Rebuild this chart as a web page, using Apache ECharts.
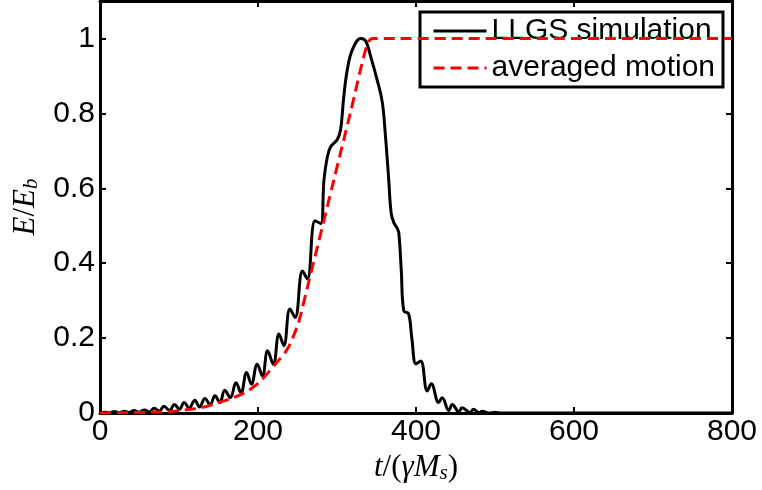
<!DOCTYPE html>
<html>
<head>
<meta charset="utf-8">
<script src="https://cdn.jsdelivr.net/npm/echarts@6.0.0/dist/echarts.min.js"></script>
<style>
  html, body { margin: 0; padding: 0; background: #fff; }
  #chart { width: 762px; height: 490px; }
</style>
</head>
<body>
<div id="chart"></div>
<script>
// LLGS simulation (black): t/(gamma Ms) and E/Eb
const llgsT = [0, 6, 11, 18.5, 24.5, 31, 37, 43, 49, 56.5, 62.5, 68.7, 74.8, 81, 88, 94.3, 100.5, 106.6,
  112.8, 120, 126, 132.8, 139.4, 145.6, 151.7, 158, 165, 172.2, 178.4, 185.6, 191.7, 199, 205.6, 212.2,
  219.4, 226.6, 232.7, 240.4, 247, 256.3, 262.5, 272.2, 279.4, 283.5, 287.8, 292, 300.4, 304.5, 308.6,
  313.1, 319.5, 330.1, 336.3, 342.5, 350.7, 357.3, 361.4, 365.5, 368.6, 372.2, 376.3, 378.3, 381.4,
  384.5, 390.6, 394.7, 400, 406, 414.2, 419.4, 428.6, 433.2, 441.4, 446, 454.2, 458.3, 468.6, 472.7,
  479.8, 484, 492, 500, 508, 800];
const llgsE = [0, 0.002, 0.0005, 0.004, 0.001, 0.005, 0.0015, 0.007, 0.002, 0.008, 0.003, 0.013, 0.005,
  0.018, 0.007, 0.023, 0.01, 0.028, 0.013, 0.034, 0.016, 0.039, 0.022, 0.046, 0.028, 0.061, 0.041,
  0.081, 0.054, 0.108, 0.077, 0.13, 0.099, 0.166, 0.13, 0.211, 0.18, 0.278, 0.255, 0.379, 0.358, 0.513,
  0.506, 0.622, 0.684, 0.711, 0.73, 0.756, 0.845, 0.917, 0.97, 1.0, 0.993, 0.953, 0.89, 0.83, 0.738,
  0.622, 0.533, 0.507, 0.493, 0.48, 0.38, 0.273, 0.265, 0.2, 0.131, 0.139, 0.059, 0.078, 0.028, 0.041,
  0.007, 0.023, 0.003, 0.014, 0.001, 0.01, 0.001, 0.005, 0, 0.002, 0, 0];

// averaged motion (red dashed)
const avgT = [0, 40, 85.6, 106, 128, 149, 169, 187, 203.5, 220, 237, 250, 254, 262, 275, 296, 317, 338, 345, 800];
const avgE = [0, 0.001, 0.003, 0.008, 0.014, 0.027, 0.041, 0.059, 0.086, 0.126, 0.17, 0.233, 0.262, 0.331,
  0.442, 0.622, 0.802, 0.983, 1.0, 1.0];

const xTicks = { min: 0, max: 800, interval: 200 };
const yTicks = { min: 0, max: 1.1, interval: 0.2 };

const labelFont = 'Liberation Sans, Arial, Helvetica, sans-serif';
const mathFont = 'Liberation Serif, Times New Roman, serif';

const chart = echarts.init(document.getElementById('chart'), null, { renderer: 'canvas' });

const frameLine = { show: true, onZero: false, lineStyle: { color: '#000', width: 3 } };
const tick = { show: true, inside: true, length: 6, lineStyle: { color: '#000', width: 2 } };

const mathRich = {
  i: { fontFamily: mathFont, fontStyle: 'italic', fontSize: 31, color: '#000' },
  r: { fontFamily: mathFont, fontSize: 31, color: '#000' },
  s: { fontFamily: mathFont, fontStyle: 'italic', fontSize: 21, color: '#000', verticalAlign: 'bottom', padding: [13, 0, 0, 0] }
};

const option = {
  animation: false,
  backgroundColor: '#fff',
  grid: { left: 100, right: 30, top: 1, bottom: 77, outerBoundsMode: 'none', containLabel: false },
  legend: {
    data: ['LLGS simulation', 'averaged motion'],
    orient: 'vertical',
    right: 39,
    top: 12,
    itemWidth: 53,
    itemHeight: 14,
    itemGap: 7,
    padding: [4, 8, 4, 12],
    backgroundColor: '#fff',
    borderColor: '#000',
    borderWidth: 3,
    borderRadius: 0,
    itemStyle: { opacity: 0 },
    lineStyle: { width: 3 },
    textStyle: { fontFamily: labelFont, fontSize: 30, color: '#000' }
  },
  xAxis: [
    {
      type: 'value', position: 'bottom', ...xTicks,
      axisLine: frameLine, axisTick: tick, splitLine: { show: false },
      axisLabel: { fontFamily: labelFont, fontSize: 30, color: '#000', margin: 4 },
      name: '{i|t}{r|/(}{i|γM}{s|s}{r|)}',
      nameLocation: 'middle', nameGap: 36,
      nameTextStyle: { rich: mathRich }
    },
    {
      type: 'value', position: 'top', ...xTicks,
      axisLine: frameLine, axisTick: tick, splitLine: { show: false },
      axisLabel: { show: false }
    }
  ],
  yAxis: [
    {
      type: 'value', position: 'left', ...yTicks,
      axisLine: frameLine, axisTick: tick, splitLine: { show: false },
      axisLabel: { fontFamily: labelFont, fontSize: 30, color: '#000', margin: 5, showMaxLabel: false },
      name: '{i|E}{r|/}{i|E}{s|b}',
      nameLocation: 'middle', nameGap: 56, nameRotate: 90,
      nameTextStyle: { rich: mathRich }
    },
    {
      type: 'value', position: 'right', ...yTicks,
      axisLine: frameLine, axisTick: tick, splitLine: { show: false },
      axisLabel: { show: false }
    }
  ],
  series: [
    {
      name: 'LLGS simulation',
      type: 'line',
      data: llgsT.map((t, i) => [t, llgsE[i]]),
      smooth: 0.4,
      symbol: 'none',
      lineStyle: { color: '#000', width: 3 },
      itemStyle: { color: '#000' },
      z: 3
    },
    {
      name: 'averaged motion',
      type: 'line',
      data: avgT.map((t, i) => [t, avgE[i]]),
      smooth: 0.3,
      symbol: 'none',
      lineStyle: { color: '#ff0000', width: 3, type: [11, 6] },
      itemStyle: { color: '#ff0000' },
      z: 4
    }
  ]
};

chart.setOption(option);
</script>
</body>
</html>
